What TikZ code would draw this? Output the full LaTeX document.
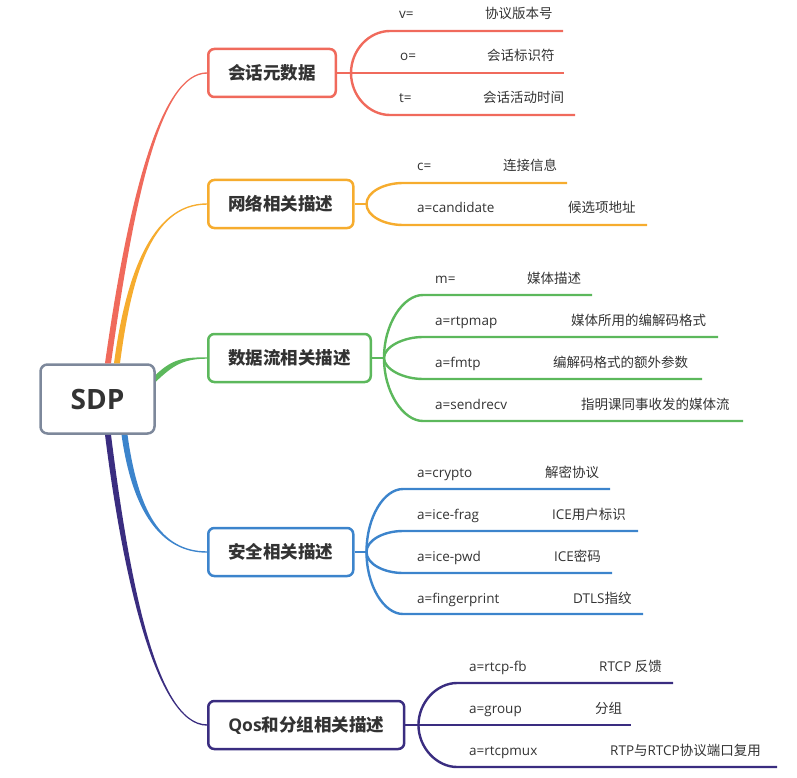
\documentclass[tikz,border=0pt]{standalone}
\usepackage{fontspec}
\setmainfont{Open Sans}
\newfontfamily\cjk{Noto Sans CJK SC}
\usetikzlibrary{calc}

\definecolor{redc}{HTML}{F06A5C}
\definecolor{orangec}{HTML}{F6AC2E}
\definecolor{greenc}{HTML}{5CB85C}
\definecolor{bluec}{HTML}{3C84CC}
\definecolor{purplec}{HTML}{3A2D80}
\definecolor{rootgray}{HTML}{7D889B}
\definecolor{ink}{HTML}{333333}

\tikzset{
  topic/.style={draw=#1, line width=2.5pt, rounded corners=6pt, fill=white, text=ink,
    minimum height=48pt, inner xsep=20pt, inner ysep=0pt, anchor=west,
    font=\fontsize{17.5}{20}\selectfont\bfseries},
  twig/.style={draw=#1, line width=2.4pt},
  field/.style={anchor=west, inner sep=0pt, text=ink, text height=10pt, text depth=3pt,
    font=\fontsize{13.5}{16}\selectfont},
  meaning/.style={field}
}

% tapered branch: colour, root, control 1, control 2, end, half width at root
\newcommand{\branch}[6]{%
  \fill[#1] ($(#2)-(#6)$) .. controls ($(#3)-(#6)$) and ($(#4)+(0,-0.7)$) .. ($(#5)+(0,-0.7)$)
    -- ($(#5)+(0,0.7)$) .. controls ($(#4)+(0,0.7)$) and ($(#3)+(#6)$) .. ($(#2)+(#6)$) -- cycle;}

\begin{document}
\begin{tikzpicture}[x=1pt,y=-1pt]
\useasboundingbox (0,0) rectangle (797,778);

% centre and topics
\node[draw=rootgray, line width=2.5pt, rounded corners=7pt, fill=white, text=ink, minimum width=114pt,
  minimum height=69pt, font=\fontsize{28}{30}\selectfont\bfseries] (sdp) at (97.5,399) {SDP};
\node[topic=redc] (meta) at (207,73) {\cjk 会话元数据};
\node[topic=orangec] (net) at (207,204) {\cjk 网络相关描述};
\node[topic=greenc] (flow) at (207,358) {\cjk 数据流相关描述};
\node[topic=bluec] (sec) at (207,552) {\cjk 安全相关描述};
\node[topic=purplec] (qos) at (207,725) {Qos{\cjk 和分组相关描述}};

% main branches
\coordinate (r1) at ($(sdp.north)+(10.5,0)$); \coordinate (r2) at ($(sdp.north)+(19.5,0)$);
\coordinate (r3) at ($(sdp.north east)+(0,15)$);
\coordinate (r4) at ($(sdp.south)+(27,0)$); \coordinate (r5) at ($(sdp.south)+(10.5,0)$);
\branch{redc}{r1}{131,200}{160,73}{meta.west}{3,0}
\branch{orangec}{r2}{128,280}{150,204}{net.west}{3,0}
\branch{greenc}{r3}{172,363}{182,358}{flow.west}{0,3.5}
\branch{bluec}{r4}{135,510}{160,552}{sec.west}{-3,0}
\branch{purplec}{r5}{125,570}{155,725}{qos.west}{-3,0}

% session metadata
\coordinate (rb) at ($(meta.east)+(14,0)$);
\draw[twig=redc] (meta.east) -- (rb) -- (564,73);
\draw[twig=redc] (rb) .. controls +(0,-23) and +(-21,0) .. (390,31) -- (563,31);
\draw[twig=redc] (rb) .. controls +(0,23) and +(-21,0) .. (390,115) -- (575,115);
\node[field] (v) at (399,15) {v=}; \node[meaning] (vm) at (485,15) {\cjk 协议版本号};
\node[field] (o) at (400,57) {o=}; \node[meaning] (om) at (487,57) {\cjk 会话标识符};
\node[field] (t) at (399,99) {t=}; \node[meaning] (tm) at (483,99) {\cjk 会话活动时间};

% network
\coordinate (ob) at ($(net.east)+(12,0)$);
\draw[twig=orangec] (net.east) -- (ob);
\draw[twig=orangec] (ob) .. controls +(0,-12) and +(-19,0) .. (403,183) -- (567,183);
\draw[twig=orangec] (ob) .. controls +(0,12) and +(-19,0) .. (403,225) -- (647,225);
\node[field] (c) at (417,167) {c=}; \node[meaning] (cm) at (503,167) {\cjk 连接信息};
\node[field] (cand) at (417,209) {a=candidate}; \node[meaning] (candm) at (568,209) {\cjk 候选项地址};

% media stream
\coordinate (gb) at ($(flow.east)+(12,0)$);
\draw[twig=greenc] (flow.east) -- (gb);
\draw[twig=greenc] (gb) .. controls +(0,-34) and +(-20,0) .. (423,295) -- (592,295);
\draw[twig=greenc] (gb) .. controls +(0,-11) and +(-20,0) .. (423,337) -- (718,337);
\draw[twig=greenc] (gb) .. controls +(0,11) and +(-20,0) .. (423,379) -- (702,379);
\draw[twig=greenc] (gb) .. controls +(0,34) and +(-20,0) .. (423,421) -- (743,421);
\node[field] (m) at (435,280) {m=}; \node[meaning] (mm) at (527,280) {\cjk 媒体描述};
\node[field] (rtpmap) at (435,322) {a=rtpmap}; \node[meaning] (rtpmapm) at (571,322) {\cjk 媒体所用的编解码格式};
\node[field] (fmtp) at (435,364) {a=fmtp}; \node[meaning] (fmtpm) at (553,364) {\cjk 编解码格式的额外参数};
\node[field] (sendrecv) at (435,406) {a=sendrecv}; \node[meaning] (sendrecvm) at (581,406) {\cjk 指明课同事收发的媒体流};

% security
\coordinate (bb) at ($(sec.east)+(12,0)$);
\draw[twig=bluec] (sec.east) -- (bb);
\draw[twig=bluec] (bb) .. controls +(0,-35) and +(-19,0) .. (403,489) -- (610,489);
\draw[twig=bluec] (bb) .. controls +(0,-12) and +(-19,0) .. (403,531) -- (638,531);
\draw[twig=bluec] (bb) .. controls +(0,12) and +(-19,0) .. (403,573) -- (612,573);
\draw[twig=bluec] (bb) .. controls +(0,34) and +(-19,0) .. (403,614) -- (643,614);
\node[field] (crypto) at (417,474) {a=crypto}; \node[meaning] (cryptom) at (545,474) {\cjk 解密协议};
\node[field] (frag) at (417,516) {a=ice-frag}; \node[meaning] (fragm) at (552,516) {ICE{\cjk 用户标识}};
\node[field] (pwd) at (417,558) {a=ice-pwd}; \node[meaning] (pwdm) at (554,558) {ICE{\cjk 密码}};
\node[field] (finger) at (417,600) {a=fingerprint}; \node[meaning] (fingerm) at (573,600) {DTLS{\cjk 指纹}};

% qos and grouping
\coordinate (pb) at ($(qos.east)+(13,0)$);
\draw[twig=purplec] (qos.east) -- (pb) -- (631,725);
\draw[twig=purplec] (pb) .. controls +(0,-23) and +(-20,0) .. (457,683) -- (673,683);
\draw[twig=purplec] (pb) .. controls +(0,23) and +(-20,0) .. (457,767) -- (777,767);
\node[field] (fb) at (469,668) {a=rtcp-fb}; \node[meaning] (fbm) at (599,668) {RTCP {\cjk 反馈}};
\node[field] (group) at (469,710) {a=group}; \node[meaning] (groupm) at (595,710) {\cjk 分组};
\node[field] (mux) at (469,752) {a=rtcpmux}; \node[meaning] (muxm) at (610,752) {RTP{\cjk 与}RTCP{\cjk 协议端口复用}};
\end{tikzpicture}
\end{document}
